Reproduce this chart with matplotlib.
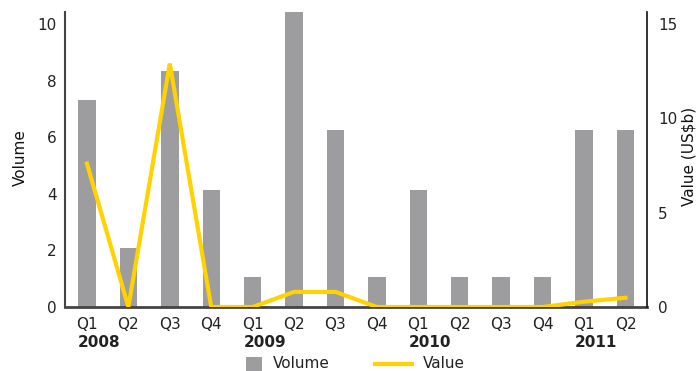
import matplotlib
matplotlib.use("Agg")
import matplotlib.pyplot as plt
from matplotlib.patches import Rectangle
from matplotlib.lines import Line2D

quarters = ["Q1", "Q2", "Q3", "Q4", "Q1", "Q2", "Q3", "Q4", "Q1", "Q2", "Q3", "Q4", "Q1", "Q2"]
years = ["2008", "2009", "2010", "2011"]
year_starts = [0, 4, 8, 12]
volume = [7.3, 2.08, 8.34, 4.15, 1.05, 10.45, 6.27, 1.05, 4.15, 1.05, 1.05, 1.05, 6.27, 6.27]
value = [7.6, 0.0, 12.9, 0.0, 0.0, 0.8, 0.8, 0.0, 0.0, 0.0, 0.0, 0.0, 0.28, 0.49]

W, H = 699, 371
plt.rcParams['font.family'] = ['DejaVu Sans']
fig = plt.figure(figsize=(W / 100, H / 100), dpi=100)
ax = fig.add_axes([0.093, 0.1725, 0.8326, 0.795])
x = list(range(len(quarters)))
ax.bar(x, volume, width=0.42, color="#9d9d9f", zorder=2)
ax.set_xlim(-0.53, 13.52)
ax.set_ylim(0, 10.42)
ax.set_yticks([0, 2, 4, 6, 8, 10])
ax.set_xticks(x)
ax.set_xticklabels(quarters)
ax.tick_params(axis='both', length=0, labelsize=11, colors="#222222")
ax.tick_params(axis='x', pad=7)
ax.tick_params(axis='y', pad=6)
for s in ['top', 'right']:
    ax.spines[s].set_visible(False)
ax.spines['left'].set_color("#444444")
ax.spines['left'].set_linewidth(1.5)
ax.spines['bottom'].set_color("#444444")
ax.spines['bottom'].set_linewidth(2)
ax.spines['bottom'].set_zorder(3)

ax2 = ax.twinx()
ax2.plot(x, value, color="#FFD200", lw=3, zorder=4, solid_joinstyle='miter')
ax2.set_ylim(0, 15.63)
ax2.set_yticks([0, 5, 10, 15])
ax2.tick_params(axis='y', length=0, labelsize=11, colors="#222222", pad=8)
for s in ['top', 'left', 'bottom']:
    ax2.spines[s].set_visible(False)
ax2.spines['right'].set_color("#111111")
ax2.spines['right'].set_linewidth(1.2)

fig.text(20 / W, 1 - 158 / H, "Volume", rotation=90, ha='center', va='center',
         fontsize=11, color="#111111")
fig.text(689 / W, 1 - 156 / H, "Value (US$b)", rotation=90, ha='center', va='center',
         fontsize=11, color="#111111")

for yr, st in zip(years, year_starts):
    ax.text(st - 0.22, -0.095, yr, transform=ax.get_xaxis_transform(),
            ha='left', va='top', fontsize=11, fontweight='bold', color="#222222")

# legend
fig.patches.append(Rectangle((246 / W, 1 - 371 / H), 16 / W, 14 / H,
                             transform=fig.transFigure, facecolor="#9d9d9f",
                             edgecolor='none'))
fig.text(273 / W, 1 - 364 / H, "Volume", ha='left', va='center', fontsize=11,
         color="#222222")
fig.lines.append(Line2D([375 / W, 412 / W], [1 - 364 / H, 1 - 364 / H],
                        transform=fig.transFigure, color="#FFD200", lw=3))
fig.text(423 / W, 1 - 364 / H, "Value", ha='left', va='center', fontsize=11,
         color="#222222")

fig.savefig("out.png", dpi=100)
